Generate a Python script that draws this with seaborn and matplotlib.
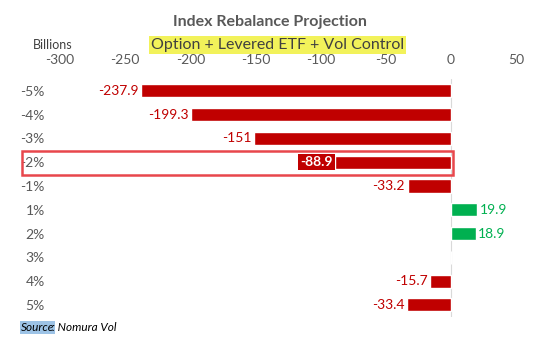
import matplotlib.pyplot as plt
import matplotlib.patches as mpatches
import seaborn as sns
import pandas as pd

# Données (milliards)
moves = ["-5%", "-4%", "-3%", "-2%", "-1%", "1%", "2%", "3%", "4%", "5%"]
flows = [-237.9, -199.3, -151, -88.9, -33.2, 19.9, 18.9, 0.0, -15.7, -33.4]
x_ticks = [-300, -250, -200, -150, -100, -50, 0, 50]

RED = "#C00000"
GREEN = "#00B050"
GRAY = "#595959"

df = pd.DataFrame({"move": moves, "flow": flows})
df["sign"] = ["pos" if v > 0 else "neg" for v in df["flow"]]

sns.set_style("white")
plt.rcParams["font.family"] = ["Lato", "DejaVu Sans"]

fig = plt.figure(figsize=(5.45, 3.54), dpi=100)
ax = fig.add_axes([0.110, 0.105, 0.837, 0.672])

sns.barplot(
    data=df, x="flow", y="move", hue="sign", order=moves,
    palette={"neg": RED, "pos": GREEN}, orient="h", width=0.55,
    legend=False, ax=ax, saturation=1,
)

ax.set_xlim(-300, 50)
ax.set_ylim(9.5, -0.5)
ax.xaxis.tick_top()
ax.set_xticks(x_ticks)
ax.set_xticklabels([str(t) for t in x_ticks])
ax.tick_params(axis="x", length=0, labelsize=10, labelcolor=GRAY, pad=9)
ax.tick_params(axis="y", length=0, labelsize=10, labelcolor=GRAY, pad=11)
ax.set_xlabel("")
ax.set_ylabel("")
for s in ax.spines.values():
    s.set_visible(False)
ax.axvline(0, color="#D9D9D9", lw=0.8, zorder=0)

# Étiquettes des valeurs
for i, v in enumerate(flows):
    if v == 0:
        continue
    label = f"{v:g}"
    if moves[i] == "-2%":
        ax.text(v - 2, i, label, ha="right", va="center", fontsize=10,
                color="white", weight="bold",
                bbox=dict(boxstyle="square,pad=0.15", fc=RED, ec="none"))
    elif v < 0:
        ax.text(v - 2, i, label, ha="right", va="center", fontsize=10, color=RED)
    else:
        ax.text(v + 2, i, label, ha="left", va="center", fontsize=10, color=GREEN)

# Cadre rouge autour de la ligne -2%
rect = mpatches.Rectangle((22 / 545, 1 - 175 / 354), (453 - 22) / 545, 24 / 354,
                          transform=fig.transFigure, fill=False,
                          ec="#E8474C", lw=1.8, clip_on=False)
fig.patches.append(rect)

# Titres
fig.text(0.495, 0.937, "Index Rebalance Projection", ha="center", va="center",
         fontsize=11.5, weight="bold", color=GRAY)
fig.text(0.51, 0.874, "Option + Levered ETF + Vol Control", ha="center", va="center",
         fontsize=11.5, color="#404040",
         bbox=dict(boxstyle="square,pad=0.12", fc="#F2F25A", ec="none"))
fig.text(0.06, 0.874, "Billions", ha="left", va="center", fontsize=9, color="#404040")

# Source
fig.text(0.038, 0.075, "Source", ha="left", va="center", fontsize=8.5,
         style="italic", color="black",
         bbox=dict(boxstyle="square,pad=0.1", fc="#9DC3E6", ec="none"))
fig.text(0.038 + 0.058, 0.075, ": Nomura Vol", ha="left", va="center",
         fontsize=8.5, style="italic", color="black")

fig.savefig("out.png", dpi=100)
